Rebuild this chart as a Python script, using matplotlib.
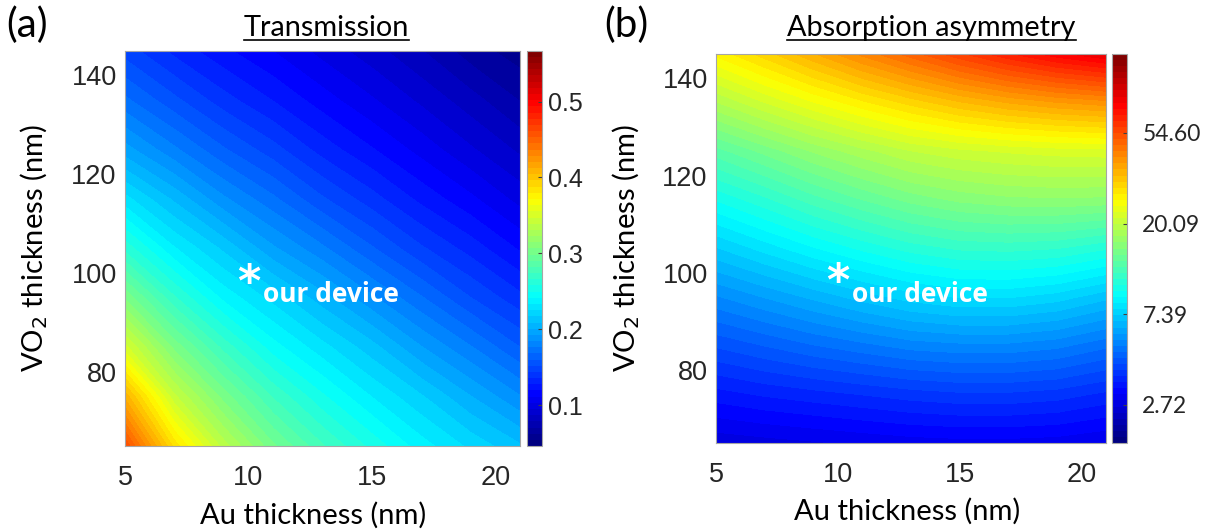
import numpy as np
import matplotlib.pyplot as plt
from matplotlib.lines import Line2D
from matplotlib.colors import LinearSegmentedColormap

au_nm = [5, 7, 9, 11, 13, 15, 17, 19, 21]
vo2_nm = [65, 75, 85, 95, 105, 115, 125, 135, 145]

# rows: VO2 from 65 to 145 nm, columns: Au from 5 to 21 nm
transmission = [
    [0.460, 0.385, 0.335, 0.300, 0.275, 0.255, 0.237, 0.223, 0.210],
    [0.410, 0.341, 0.303, 0.273, 0.251, 0.233, 0.218, 0.201, 0.185],
    [0.350, 0.304, 0.271, 0.245, 0.228, 0.212, 0.193, 0.177, 0.160],
    [0.305, 0.267, 0.239, 0.222, 0.204, 0.186, 0.169, 0.152, 0.138],
    [0.263, 0.234, 0.215, 0.194, 0.178, 0.161, 0.145, 0.132, 0.118],
    [0.228, 0.207, 0.186, 0.170, 0.153, 0.139, 0.125, 0.113, 0.100],
    [0.196, 0.178, 0.161, 0.147, 0.132, 0.120, 0.108, 0.096, 0.085],
    [0.170, 0.154, 0.139, 0.127, 0.115, 0.104, 0.093, 0.082, 0.070],
    [0.148, 0.133, 0.121, 0.111, 0.100, 0.090, 0.079, 0.066, 0.058],
]

# natural log of the absorption asymmetry, same layout
log_asym = [
    [1.00, 1.02, 1.04, 1.06, 1.08, 1.09, 1.09, 1.08, 1.05],
    [1.22, 1.26, 1.29, 1.32, 1.35, 1.37, 1.37, 1.35, 1.30],
    [1.46, 1.52, 1.58, 1.63, 1.68, 1.70, 1.70, 1.67, 1.60],
    [1.71, 1.79, 1.87, 1.95, 2.02, 2.06, 2.06, 2.02, 1.94],
    [1.98, 2.08, 2.18, 2.27, 2.35, 2.40, 2.41, 2.39, 2.33],
    [2.26, 2.37, 2.49, 2.59, 2.68, 2.74, 2.77, 2.78, 2.77],
    [2.56, 2.68, 2.80, 2.90, 2.99, 3.04, 3.07, 3.09, 3.10],
    [2.92, 3.06, 3.19, 3.31, 3.42, 3.52, 3.60, 3.66, 3.70],
    [3.28, 3.43, 3.59, 3.75, 3.90, 4.05, 4.19, 4.31, 4.40],
]

trans_range = (0.046, 0.567)
asym_range = (0.58, 4.87)
trans_ticks = [0.1, 0.2, 0.3, 0.4, 0.5]
asym_ticks = [1, 2, 3, 4]
x_ticks = [5, 10, 15, 20]
y_ticks = [80, 100, 120, 140]
device = (10, 100)

label_font = "Lato"
tick_font = "Liberation Sans"
tick_color = "#262626"
edge_color = "#a6a6a6"

# MATLAB style jet with 64 colours
jet64 = LinearSegmentedColormap("mjet", {
    "red": [(0, 0, 0), (0.375, 0, 0), (0.625, 1, 1), (0.875, 1, 1), (1, 0.5, 0.5)],
    "green": [(0, 0, 0), (0.125, 0, 0), (0.375, 1, 1), (0.625, 1, 1), (0.875, 0, 0), (1, 0, 0)],
    "blue": [(0, 0.5, 0.5), (0.125, 1, 1), (0.375, 1, 1), (0.625, 0, 0), (1, 0, 0)],
}, N=64)

fig = plt.figure(figsize=(12.09, 5.31), dpi=100)


def draw_panel(rect, crect, z, zrange, cticks, clabels, cfont, csize, cpad,
               title, title_x, title_y, letter, letter_x, xlab_x):
    ax = fig.add_axes(rect)
    cax = fig.add_axes(crect)
    levels = np.linspace(zrange[0], zrange[1], 65)
    cs = ax.contourf(au_nm, vo2_nm, np.array(z), levels=levels,
                     cmap=jet64, vmin=zrange[0], vmax=zrange[1])
    ax.set_xlim(5, 21)
    ax.set_ylim(65, 145)
    ax.set_xticks(x_ticks)
    ax.set_yticks(y_ticks)
    ax.tick_params(length=0, labelsize=19.5, labelcolor=tick_color)
    ax.tick_params(axis="x", pad=14)
    ax.tick_params(axis="y", pad=6)
    for lab in ax.get_xticklabels() + ax.get_yticklabels():
        lab.set_family(tick_font)
    for sp in ax.spines.values():
        sp.set_color(edge_color)
        sp.set_linewidth(0.8)
    ax.set_xlabel("Au thickness (nm)", family=label_font, fontsize=21)
    ax.set_ylabel("VO$_2$ thickness (nm)", family=label_font, fontsize=21)
    ax.xaxis.set_label_coords(xlab_x, -0.14)
    ax.yaxis.set_label_coords(-0.19, 0.5)

    ax.text(device[0], device[1] - 4.6, "*", color="white", fontsize=32,
            fontweight="bold", ha="center", va="baseline", family="DejaVu Sans")
    ax.text(device[0] + 0.6, 94.1, "our device", color="white", fontsize=19,
            fontweight="bold", ha="left", va="baseline", family="Open Sans")

    cb = fig.colorbar(cs, cax=cax)
    cb.set_ticks(cticks)
    cb.set_ticklabels(clabels)
    cb.outline.set_edgecolor(edge_color)
    cb.outline.set_linewidth(0.8)
    cax.tick_params(direction="in", length=3, width=0.8, color="#404040",
                    labelsize=csize, labelcolor=tick_color, pad=cpad)
    cax.minorticks_off()
    for lab in cax.get_yticklabels():
        lab.set_family(cfont)

    t = ax.text(title_x, title_y, title, transform=ax.transAxes, ha="center",
                va="baseline", family=label_font, fontsize=20.8)
    fig.text(letter_x, 0.952, letter, family=label_font, fontsize=29,
             ha="left", va="center")
    return t


titles = []
titles.append(draw_panel([0.1034, 0.160, 0.3267, 0.7444], [0.4359, 0.160, 0.0124, 0.7444],
                         transmission, trans_range, trans_ticks,
                         ["%g" % v for v in trans_ticks], tick_font, 18, 4,
                         "Transmission", 0.51, 1.037, "(a)", 0.005, 0.475))
titles.append(draw_panel([0.5922, 0.1657, 0.3226, 0.7326], [0.9198, 0.1657, 0.0124, 0.7326],
                         log_asym, asym_range, asym_ticks,
                         ["%.2f" % np.exp(v) for v in asym_ticks], label_font, 16.5, 11,
                         "Absorption asymmetry", 0.553, 1.046, "(b)", 0.5, 0.49))

# underline the titles
fig.canvas.draw()
inv = fig.transFigure.inverted()
for t in titles:
    bb = t.get_window_extent()
    x0, y0 = inv.transform((bb.x0, bb.y0 + 1))
    x1, _ = inv.transform((bb.x1, bb.y0 + 1))
    fig.add_artist(Line2D([x0, x1], [y0, y0], transform=fig.transFigure,
                          color="black", linewidth=1.2))

fig.savefig("out.png", dpi=100)
